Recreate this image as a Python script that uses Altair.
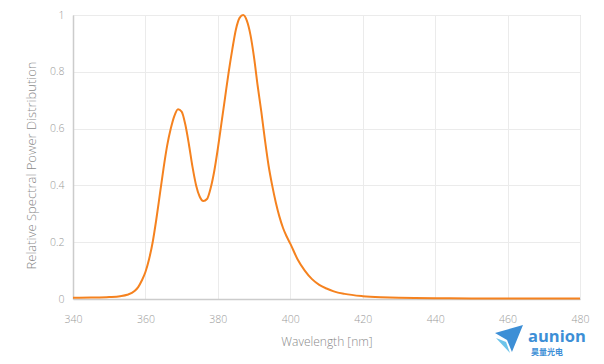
import altair as alt
import pandas as pd

wavelength = [340, 345, 350, 353, 355, 357, 358, 359, 360, 361, 362, 363, 364, 365, 366, 367, 368, 369, 370,
              371, 372, 373, 374, 375, 376, 377, 378, 379, 380, 381, 382, 383, 384, 385, 386, 387, 388, 389,
              390, 391, 392, 393, 394, 395, 396, 397, 398, 399, 400, 402, 404, 406, 408, 410, 412, 415, 420,
              425, 430, 440, 450, 460, 470, 480]
power = [0.004, 0.005, 0.007, 0.010, 0.015, 0.028, 0.042, 0.065, 0.095, 0.14, 0.20, 0.28, 0.37, 0.46, 0.54,
         0.60, 0.645, 0.668, 0.66, 0.615, 0.545, 0.465, 0.40, 0.36, 0.345, 0.352, 0.39, 0.45, 0.53, 0.62,
         0.71, 0.80, 0.88, 0.95, 0.99, 1.0, 0.98, 0.93, 0.85, 0.75, 0.66, 0.56, 0.47, 0.40, 0.34, 0.29,
         0.25, 0.22, 0.195, 0.14, 0.10, 0.07, 0.05, 0.037, 0.027, 0.018, 0.010, 0.006, 0.004, 0.003,
         0.002, 0.002, 0.002, 0.002]

x_ticks = [340, 360, 380, 400, 420, 440, 460, 480]
y_ticks = [0, 0.2, 0.4, 0.6, 0.8, 1]

df = pd.DataFrame({"wavelength": wavelength, "power": power})

FONT = "Open Sans"
GRAY = "#9a9a9a"
BLUE = "#3d8fd6"

line = alt.Chart(df).mark_line(color="#f5821f", strokeWidth=2, interpolate="monotone").encode(
    x=alt.X("wavelength:Q",
            scale=alt.Scale(domain=[340, 480], nice=False, zero=False),
            axis=alt.Axis(values=x_ticks, title="Wavelength [nm]", labelFlush=False)),
    y=alt.Y("power:Q",
            scale=alt.Scale(domain=[0, 1], nice=False),
            axis=alt.Axis(values=y_ticks, format="~g", title="Relative Spectral Power Distribution",
                          titleY=150, titleFontSize=13)),
)

logo_main = alt.Chart(pd.DataFrame({"t": ["aunion"]})).mark_text(
    font=FONT, fontWeight="bold", fontSize=16.5, color=BLUE, align="left", baseline="alphabetic"
).encode(x=alt.value(455), y=alt.value(327), text="t:N")

logo_cn = alt.Chart(pd.DataFrame({"t": ["昊量光电"]})).mark_text(
    font="Noto Sans CJK SC", fontWeight="bold", fontSize=8, color=BLUE, align="left", baseline="alphabetic"
).encode(x=alt.value(458), y=alt.value(339.5), text="t:N")

icon_light = alt.Chart(pd.DataFrame({"k": [1]})).mark_point(
    shape="M -0.93 0 L -0.21 0.29 L 0.07 1.07 Z", filled=True, size=784, color="#6cc4ea", opacity=1,
    strokeWidth=0
).encode(x=alt.value(436), y=alt.value(323))

icon_dark = alt.Chart(pd.DataFrame({"k": [1]})).mark_point(
    shape="M -1 -0.36 L 1 -0.93 L 0.21 1 L -0.14 0.14 Z", filled=True, size=784, color=BLUE, opacity=1,
    strokeWidth=0
).encode(x=alt.value(436), y=alt.value(323))

chart = alt.layer(line, icon_light, icon_dark, logo_main, logo_cn).properties(
    width=507, height=284,
    autosize=alt.AutoSizeParams(type="none"),
    padding={"left": 65, "top": 7, "right": 16, "bottom": 57},
).configure_view(
    stroke="#cccccc", strokeWidth=1
).configure_axis(
    grid=True, gridColor="#ebebeb", gridWidth=1,
    domainColor="#cccccc", domainWidth=1.5,
    ticks=False,
    labelFont=FONT, labelColor=GRAY, labelFontSize=10.5, labelFontWeight=300,
    titleFont=FONT, titleColor="#8a8a8a", titleFontSize=12, titleFontWeight=300,
).configure_axisX(
    labelPadding=15, titlePadding=12,
).configure_axisY(
    labelPadding=9, titlePadding=11,
)

chart.save("out.html", embed_options={"renderer": "svg", "actions": False})
